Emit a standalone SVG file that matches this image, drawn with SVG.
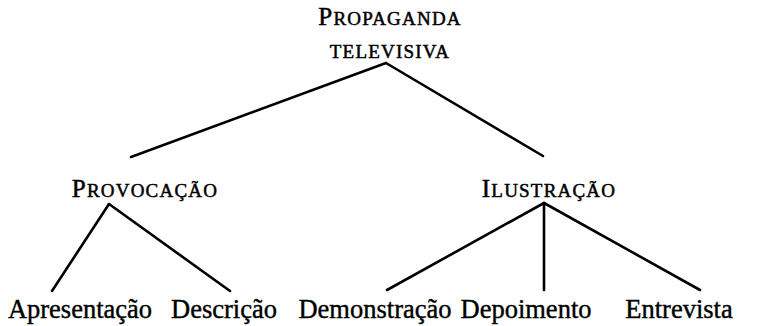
<svg xmlns="http://www.w3.org/2000/svg" width="757" height="326" viewBox="0 0 757 326">
<style>
.sc{font-family:"Liberation Serif","Times New Roman",serif;fill:#000;text-anchor:middle;font-size:19px;letter-spacing:1.2px;stroke:#000;stroke-width:0.5}
.big{font-size:25px}
.leaf{font-family:"Liberation Serif","Times New Roman",serif;font-size:26.5px;fill:#000;text-anchor:middle;stroke:#000;stroke-width:0.4}
.e{stroke:#000;stroke-width:2.6;fill:none;stroke-linecap:round}
</style>
<rect width="757" height="326" fill="#fff"/>
<g id="connectors">
<line class="e" x1="386" y1="63" x2="131" y2="157"/>
<line class="e" x1="386" y1="63" x2="543" y2="156"/>
<line class="e" x1="109" y1="204" x2="52" y2="291"/>
<line class="e" x1="109" y1="204" x2="230" y2="291"/>
<line class="e" x1="544" y1="203" x2="387" y2="290"/>
<line class="e" x1="544" y1="203" x2="544" y2="290"/>
<line class="e" x1="544" y1="203" x2="700" y2="290"/>
</g>
<g id="n-propaganda">
<text class="sc" x="390" y="25"><tspan class="big">P</tspan>ROPAGANDA</text>
<text class="sc" x="390" y="58">TELEVISIVA</text>
</g>
<g id="n-provocacao">
<text class="sc" x="145" y="197"><tspan class="big">P</tspan>ROVOCAÇÃO</text>
</g>
<g id="n-ilustracao">
<text class="sc" x="549" y="197"><tspan class="big">I</tspan>LUSTRAÇÃO</text>
</g>
<g id="n-apresentacao"><text class="leaf" x="80" y="318">Apresentação</text></g>
<g id="n-descricao"><text class="leaf" x="224" y="318">Descrição</text></g>
<g id="n-demonstracao"><text class="leaf" x="375" y="318">Demonstração</text></g>
<g id="n-depoimento"><text class="leaf" x="526" y="318">Depoimento</text></g>
<g id="n-entrevista"><text class="leaf" x="679" y="318">Entrevista</text></g>
</svg>
